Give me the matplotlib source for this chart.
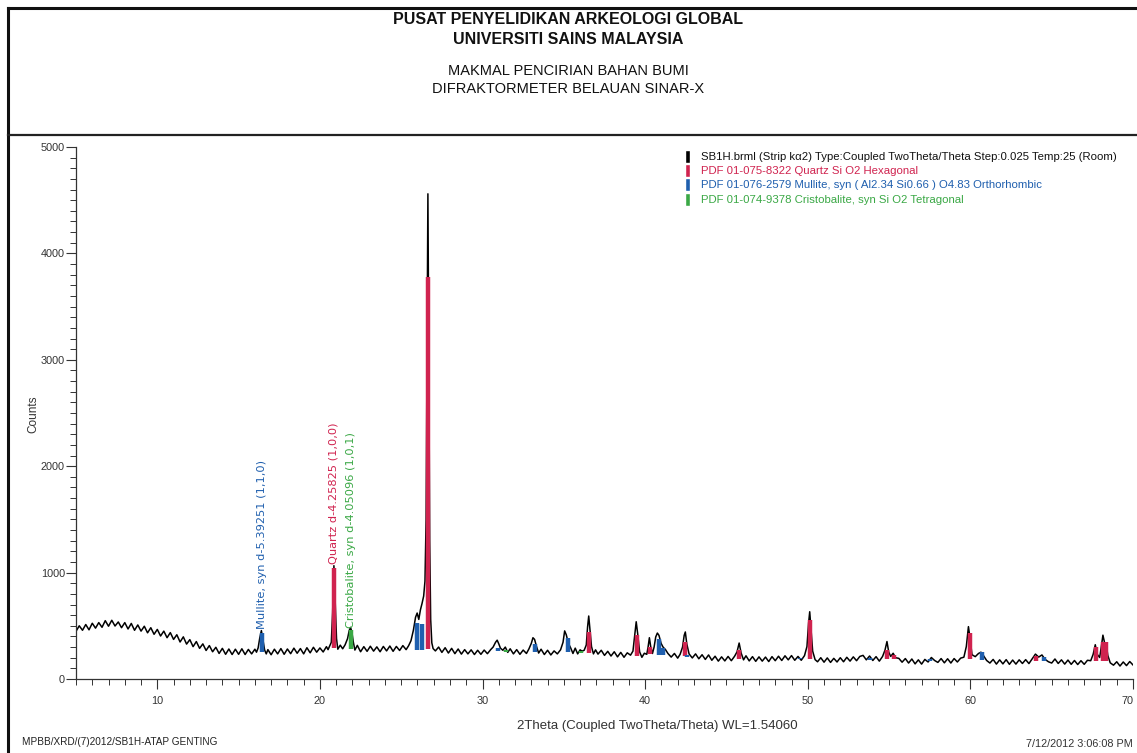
import matplotlib
matplotlib.use("Agg")
import matplotlib.pyplot as plt
from matplotlib import font_manager
from matplotlib.ticker import MultipleLocator, FixedLocator
from matplotlib.lines import Line2D

# ---------------- data ----------------
two_theta = [
    5.0, 5.2, 5.4, 5.6, 5.8, 6.0, 6.2, 6.4, 6.6, 6.8,
    7.0, 7.2, 7.4, 7.6, 7.8, 8.0, 8.2, 8.4, 8.6, 8.8,
    9.0, 9.2, 9.4, 9.6, 9.8, 10.0, 10.2, 10.4, 10.6, 10.8,
    11.0, 11.2, 11.4, 11.6, 11.8, 12.0, 12.2, 12.4, 12.6, 12.8,
    13.0, 13.2, 13.4, 13.6, 13.8, 14.0, 14.2, 14.4, 14.6, 14.8,
    15.0, 15.2, 15.4, 15.6, 15.8, 16.0, 16.1, 16.2, 16.3, 16.4,
    16.5, 16.6, 16.7, 16.8, 17.0, 17.2, 17.4, 17.6, 17.8, 18.0,
    18.2, 18.4, 18.6, 18.8, 19.0, 19.2, 19.4, 19.6, 19.8, 20.0,
    20.2, 20.4, 20.5, 20.6, 20.7, 20.78, 20.86, 20.94, 21.02, 21.1,
    21.25, 21.4, 21.55, 21.7, 21.8, 21.88, 21.96, 22.05, 22.15, 22.3,
    22.5, 22.7, 22.9, 23.1, 23.3, 23.5, 23.7, 23.9, 24.1, 24.3,
    24.5, 24.7, 24.9, 25.1, 25.3, 25.45, 25.6, 25.75, 25.88, 25.98,
    26.08, 26.18, 26.28, 26.38, 26.46, 26.53, 26.59, 26.64, 26.69, 26.75,
    26.81, 26.88, 26.96, 27.1, 27.3, 27.5, 27.7, 27.9, 28.1, 28.3,
    28.5, 28.7, 28.9, 29.1, 29.3, 29.5, 29.7, 29.9, 30.1, 30.3,
    30.5, 30.65, 30.8, 30.9, 31.0, 31.1, 31.25, 31.4, 31.55, 31.7,
    31.9, 32.1, 32.3, 32.5, 32.7, 32.85, 33.0, 33.1, 33.2, 33.32,
    33.45, 33.6, 33.8, 34.0, 34.2, 34.4, 34.6, 34.8, 34.95, 35.05,
    35.15, 35.28, 35.42, 35.56, 35.7, 35.85, 36.0, 36.12, 36.25, 36.38,
    36.46, 36.53, 36.6, 36.7, 36.82, 36.95, 37.1, 37.3, 37.5, 37.7,
    37.9, 38.1, 38.3, 38.5, 38.7, 38.9, 39.1, 39.25, 39.36, 39.45,
    39.54, 39.66, 39.8, 39.95, 40.1, 40.18, 40.26, 40.34, 40.45, 40.55,
    40.65, 40.75, 40.85, 40.98, 41.1, 41.25, 41.4, 41.6, 41.8, 42.0,
    42.15, 42.3, 42.4, 42.47, 42.56, 42.7, 42.9, 43.1, 43.3, 43.5,
    43.7, 43.9, 44.1, 44.3, 44.5, 44.7, 44.9, 45.1, 45.3, 45.5,
    45.65, 45.78, 45.9, 46.05, 46.2, 46.4, 46.6, 46.8, 47.0, 47.2,
    47.4, 47.6, 47.8, 48.0, 48.2, 48.4, 48.6, 48.8, 49.0, 49.2,
    49.4, 49.6, 49.8, 49.95, 50.05, 50.12, 50.2, 50.3, 50.45, 50.6,
    50.8, 51.0, 51.2, 51.4, 51.6, 51.8, 52.0, 52.2, 52.4, 52.6,
    52.8, 53.0, 53.2, 53.4, 53.6, 53.8, 54.0, 54.2, 54.4, 54.6,
    54.75, 54.87, 54.98, 55.1, 55.25, 55.4, 55.6, 55.8, 56.0, 56.2,
    56.4, 56.6, 56.8, 57.0, 57.2, 57.4, 57.6, 57.8, 58.0, 58.2,
    58.4, 58.6, 58.8, 59.0, 59.2, 59.4, 59.6, 59.75, 59.88, 59.98,
    60.1, 60.3, 60.5, 60.65, 60.8, 61.0, 61.2, 61.4, 61.6, 61.8,
    62.0, 62.2, 62.4, 62.6, 62.8, 63.0, 63.2, 63.4, 63.6, 63.8,
    64.0, 64.2, 64.4, 64.6, 64.8, 65.0, 65.2, 65.4, 65.6, 65.8,
    66.0, 66.2, 66.4, 66.6, 66.8, 67.0, 67.2, 67.4, 67.55, 67.68,
    67.8, 67.95, 68.05, 68.15, 68.25, 68.35, 68.45, 68.6, 68.8, 69.0,
    69.2, 69.4, 69.6, 69.8, 70.0,
]
counts = [
    448, 500, 458, 512, 462, 524, 478, 530, 486, 548,
    496, 552, 498, 536, 482, 530, 470, 522, 458, 508,
    450, 496, 434, 482, 420, 466, 404, 450, 388, 436,
    372, 416, 348, 396, 328, 370, 304, 352, 288, 330,
    268, 314, 256, 298, 240, 288, 232, 282, 230, 280,
    232, 284, 230, 278, 236, 280, 252, 292, 385, 455,
    365, 272, 236, 276, 228, 280, 236, 286, 232, 282,
    238, 290, 242, 286, 236, 294, 246, 298, 252, 292,
    254, 304, 276, 310, 345, 620, 1065, 720, 380, 280,
    318, 284, 322, 380, 455, 485, 445, 350, 272, 316,
    256, 304, 260, 308, 262, 302, 256, 306, 264, 310,
    260, 306, 268, 314, 276, 312, 360, 460, 580, 620,
    560, 650, 710, 780, 920, 1500, 3100, 4560, 3200, 1300,
    560, 340, 286, 264, 300, 250, 294, 244, 288, 238,
    282, 234, 276, 236, 274, 230, 270, 232, 272, 238,
    276, 300, 345, 365, 330, 290, 270, 300, 250, 284,
    236, 276, 232, 272, 240, 282, 335, 388, 372, 305,
    244, 280, 230, 270, 226, 264, 236, 275, 345, 452,
    415, 335, 292, 240, 290, 236, 274, 262, 270, 320,
    490, 592, 475, 305, 236, 274, 234, 270, 222, 260,
    216, 256, 208, 250, 204, 246, 224, 262, 410, 538,
    425, 255, 204, 242, 232, 300, 388, 305, 240, 300,
    395, 432, 410, 335, 300, 276, 240, 206, 240, 196,
    232, 300, 410, 442, 330, 236, 198, 236, 190, 228,
    184, 226, 176, 214, 168, 208, 170, 212, 172, 214,
    255, 338, 245, 180, 218, 170, 210, 166, 208, 168,
    206, 164, 210, 172, 214, 174, 218, 180, 220, 176,
    212, 176, 220, 305, 525, 632, 465, 262, 182, 162,
    200, 158, 198, 156, 194, 160, 200, 162, 204, 168,
    208, 172, 212, 222, 180, 216, 174, 210, 168, 212,
    272, 352, 252, 212, 242, 200, 194, 158, 192, 150,
    188, 142, 180, 140, 184, 160, 202, 174, 156, 192,
    152, 190, 150, 192, 160, 196, 205, 305, 492, 382,
    228, 210, 240, 252, 221, 174, 150, 184, 140, 180,
    142, 182, 138, 178, 140, 180, 146, 182, 145, 190,
    234, 206, 226, 184, 162, 150, 188, 146, 180, 140,
    178, 138, 174, 136, 172, 138, 176, 172, 232, 322,
    232, 202, 302, 412, 342, 332, 222, 152, 130, 162,
    122, 160, 126, 164, 132,
]

quartz_pos = [20.86, 26.64, 36.54, 39.47, 40.29, 42.45, 45.79, 50.14, 54.87, 55.33, 59.96, 64.03, 67.74, 68.14, 68.31]
quartz_top = [1040, 3775, 440, 410, 300, 350, 270, 555, 275, 225, 430, 215, 300, 350, 350]
quartz_base = [290, 280, 245, 220, 235, 215, 190, 185, 190, 190, 190, 170, 165, 165, 165]

mullite_pos = [16.43, 25.97, 26.27, 30.96, 33.22, 35.27, 40.87, 41.10, 42.60, 49.50, 53.80, 57.50, 60.70, 64.50]
mullite_top = [430, 530, 520, 290, 330, 390, 380, 290, 230, 200, 200, 190, 250, 210]
mullite_base = [255, 270, 270, 260, 250, 250, 230, 230, 210, 185, 180, 165, 180, 170]

cristo_pos = [21.93, 31.46, 36.08]
cristo_top = [460, 275, 262]
cristo_base = [280, 255, 245]

x_ticks = [10, 20, 30, 40, 50, 60, 70]

legend_labels = [
    "SB1H.brml (Strip k\u03b12) Type:Coupled TwoTheta/Theta Step:0.025 Temp:25 (Room)",
    "PDF 01-075-8322 Quartz Si O2 Hexagonal",
    "PDF 01-076-2579 Mullite, syn ( Al2.34 Si0.66 ) O4.83 Orthorhombic",
    "PDF 01-074-9378 Cristobalite, syn Si O2 Tetragonal",
]
peak_labels = ["Mullite, syn d-5.39251 (1,1,0)", "Quartz d-4.25825 (1,0,0)",
               "Cristobalite, syn d-4.05096 (1,0,1)"]
peak_label_x = [16.43, 20.86, 21.93]
peak_label_y = [470, 1080, 480]

title_lines = ["PUSAT PENYELIDIKAN ARKEOLOGI GLOBAL", "UNIVERSITI SAINS MALAYSIA",
               "MAKMAL PENCIRIAN BAHAN BUMI", "DIFRAKTORMETER BELAUAN SINAR-X"]

# ---------------- styling ----------------
C_Q = "#d0234f"
C_M = "#1f5fae"
C_C = "#3aa845"
C_TXT = "#333333"

avail = {f.name for f in font_manager.fontManager.ttflist}
NARROW = "Liberation Sans Narrow" if "Liberation Sans Narrow" in avail else "Liberation Sans"
SANS = "Liberation Sans"

W, H = 1137, 753
fig = plt.figure(figsize=(W / 100, H / 100), dpi=100)
fig.patch.set_facecolor("white")

def fx(px):
    return px / W

def fy(py):
    return 1 - py / H

# frame around page and header separator
fig.add_artist(Line2D([fx(8), fx(8)], [fy(8), fy(753)], color="#111111", lw=2.2))
fig.add_artist(Line2D([fx(8), fx(1137)], [fy(8), fy(8)], color="#111111", lw=2.2))
fig.add_artist(Line2D([fx(8), fx(1137)], [fy(135), fy(135)], color="#222222", lw=1.6))

# titles
title_y = [19, 39, 71, 89]
title_bold = [True, True, False, False]
for t, y, b in zip(title_lines, title_y, title_bold):
    fig.text(fx(568), fy(y), t, ha="center", va="center", family=NARROW,
             fontsize=11.5 if b else 10.5, fontweight="bold" if b else "normal", color="#111111")

# axes
ax = fig.add_axes([fx(76), fy(679), fx(1133 - 76), (679 - 147) / H])
ax.set_xlim(5, 70)
ax.set_ylim(0, 5000)
ax.plot(two_theta, counts, color="black", lw=1.1, zorder=2)
for pos, top, base, col in ((quartz_pos, quartz_top, quartz_base, C_Q),
                            (mullite_pos, mullite_top, mullite_base, C_M),
                            (cristo_pos, cristo_top, cristo_base, C_C)):
    ax.vlines(pos, base, top, colors=col, lw=3.2, zorder=3)

for s in ("top", "right"):
    ax.spines[s].set_visible(False)
for s in ("left", "bottom"):
    ax.spines[s].set_color("#333333")
    ax.spines[s].set_linewidth(0.9)

ax.xaxis.set_major_locator(FixedLocator(x_ticks))
ax.xaxis.set_minor_locator(MultipleLocator(1))
ax.yaxis.set_major_locator(MultipleLocator(1000))
ax.yaxis.set_minor_locator(MultipleLocator(100))
ax.tick_params(axis="both", which="major", direction="out", length=7, width=0.8,
               color="#333333", labelcolor=C_TXT, labelsize=7.8)
ax.tick_params(axis="both", which="minor", direction="out", length=4, width=0.7, color="#333333")
ax.tick_params(axis="x", which="major", pad=5)
ax.tick_params(axis="y", which="major", pad=1)
for lab in ax.get_xticklabels() + ax.get_yticklabels():
    lab.set_family(SANS)
# last x label sits inside the page edge
ax.get_xticklabels()[-1].set_horizontalalignment("right")

# peak annotations
for lab, x, y, col in zip(peak_labels, peak_label_x, peak_label_y, (C_M, C_Q, C_C)):
    ax.text(x, y, lab, rotation=90, ha="center", va="bottom", color=col,
            fontsize=8.2, family="DejaVu Sans", zorder=4)

# legend (stacked text with colour bars)
leg_y = [157, 171, 185, 200]
for lab, y, col in zip(legend_labels, leg_y, ("black", C_Q, C_M, C_C)):
    fig.add_artist(Line2D([fx(688), fx(688)], [fy(y - 4), fy(y + 4)], color=col, lw=2.6))
    fig.text(fx(701), fy(y), lab, ha="left", va="center", fontsize=8.2,
             family=SANS, color=("#111111" if col == "black" else col))

# axis labels and footer
fig.text(fx(33), fy(414), "Counts", rotation=90, ha="center", va="center",
         fontsize=8.5, family=SANS, color=C_TXT)
fig.text(fx(657), fy(726), "2Theta (Coupled TwoTheta/Theta) WL=1.54060", ha="center",
         va="center", fontsize=9.5, family=SANS, color=C_TXT)
fig.text(fx(22), fy(742), "MPBB/XRD/(7)2012/SB1H-ATAP GENTING", ha="left", va="center",
         fontsize=7.2, family=NARROW, color="#222222")
fig.text(fx(1133), fy(744), "7/12/2012 3:06:08 PM", ha="right", va="center",
         fontsize=7.8, family=SANS, color=C_TXT)

fig.savefig("out.png", dpi=100)
